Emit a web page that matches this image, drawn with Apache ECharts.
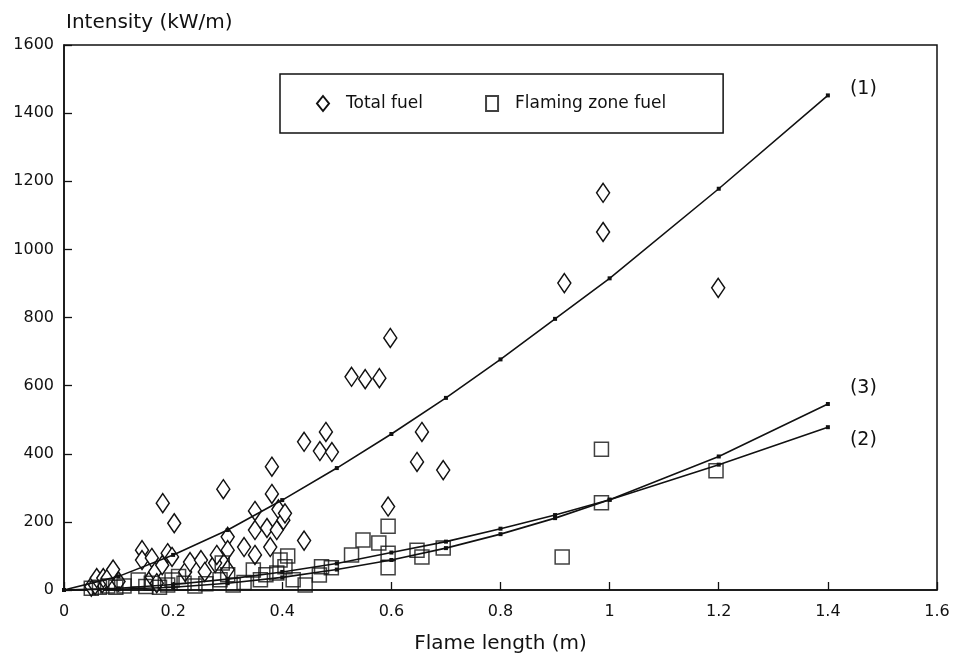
<!DOCTYPE html>
<html>
<head>
<meta charset="utf-8">
<script src="https://cdn.jsdelivr.net/npm/echarts@6/dist/echarts.min.js"></script>
<style>
  html, body { margin: 0; padding: 0; background: #fff; }
  #chart { width: 953px; height: 661px; }
</style>
</head>
<body>
<div id="chart"></div>
<script>
// fitted curves, read at the small square markers
const curveX = [0, 0.1, 0.2, 0.3, 0.4, 0.5, 0.6, 0.7, 0.8, 0.9, 1.0, 1.2, 1.4]
const curve1 = [0, 40, 103, 176, 264, 358, 458, 564, 677, 796, 915, 1178, 1452]
const curve2 = [0, 5, 16, 32, 53, 78, 110, 142, 180, 220, 265, 368, 478]
const curve3 = [0, 2, 8, 20, 37, 60, 88, 123, 164, 211, 265, 392, 546]

// measured points [flame length, intensity]
const totalFuel = [
  [0.05, 10], [0.057, 15], [0.07, 20], [0.06, 35], [0.072, 35], [0.08, 35], [0.09, 60], [0.1, 25],
  [0.143, 117], [0.143, 88], [0.161, 94], [0.161, 38], [0.167, 53], [0.18, 73], [0.19, 108],
  [0.181, 255], [0.202, 196], [0.198, 97], [0.17, 20], [0.222, 53], [0.231, 82], [0.251, 88],
  [0.258, 53], [0.277, 79], [0.28, 103], [0.292, 296], [0.30, 156], [0.30, 117], [0.30, 60],
  [0.33, 126], [0.35, 232], [0.35, 176], [0.35, 103], [0.372, 182], [0.378, 126], [0.381, 362],
  [0.381, 282], [0.39, 176], [0.393, 237], [0.402, 205], [0.405, 225], [0.44, 435], [0.44, 145],
  [0.469, 408], [0.48, 464], [0.491, 405], [0.527, 626], [0.552, 619], [0.578, 622],
  [0.598, 740], [0.594, 245], [0.647, 376], [0.656, 464], [0.695, 352], [0.917, 901],
  [0.988, 1166], [0.988, 1051], [1.199, 887]
]
const flamingFuel = [
  [0.05, 5], [0.065, 8], [0.08, 12], [0.095, 8], [0.11, 12], [0.136, 29], [0.15, 10], [0.16, 20],
  [0.175, 8], [0.19, 15], [0.198, 29], [0.21, 40], [0.22, 20], [0.24, 12], [0.26, 18], [0.286, 30],
  [0.29, 79], [0.3, 45], [0.31, 15], [0.33, 22], [0.347, 59], [0.36, 30], [0.37, 45], [0.39, 50],
  [0.396, 88], [0.405, 68], [0.41, 100], [0.42, 30], [0.442, 15], [0.468, 44], [0.472, 68],
  [0.49, 65], [0.527, 103], [0.548, 147], [0.577, 138], [0.594, 187], [0.594, 108], [0.594, 65],
  [0.647, 117], [0.656, 97], [0.695, 123], [0.913, 97], [0.985, 413], [0.985, 256], [1.195, 350]
]

const xTicks = ['0', '0.2', '0.4', '0.6', '0.8', '1', '1.2', '1.4', '1.6']

const font = 'DejaVu Sans'
const myChart = echarts.init(document.getElementById('chart'))

const zip = (xs, ys) => xs.map((x, i) => [x, ys[i]])

const curveSeries = (data, label, offset) => ({
  type: 'line',
  data: zip(curveX, data),
  symbol: 'rect',
  symbolSize: 4,
  showSymbol: true,
  color: '#111',
  lineStyle: { color: '#111', width: 1.6 },
  itemStyle: { color: '#111' },
  endLabel: {
    show: true,
    formatter: label,
    fontFamily: font,
    fontSize: 19,
    color: '#111',
    offset: offset
  },
  z: 3,
  silent: true
})

const option = {
  animation: false,
  backgroundColor: '#fff',
  textStyle: { fontFamily: font },
  grid: {
    left: 64,
    right: 16,
    top: 45,
    bottom: 71,
    show: true,
    borderColor: '#111',
    borderWidth: 1.5
  },
  legend: {
    left: 280,
    top: 74,
    padding: [21, 57, 21, 36],
    itemGap: 62,
    itemWidth: 12,
    itemHeight: 15,
    borderColor: '#111',
    borderWidth: 1.5,
    textStyle: { fontFamily: font, fontSize: 17, color: '#111', padding: [0, 0, 0, 12] },
    data: ['Total fuel', 'Flaming zone fuel']
  },
  xAxis: {
    type: 'value',
    min: 0,
    max: 1.6,
    interval: 0.2,
    name: 'Flame length (m)',
    nameLocation: 'middle',
    nameGap: 44,
    nameTextStyle: { fontFamily: font, fontSize: 20, color: '#111' },
    axisLine: { lineStyle: { color: '#111', width: 1.5 } },
    axisTick: { inside: true, length: 8, lineStyle: { color: '#111', width: 1.3 } },
    axisLabel: {
      fontSize: 16,
      color: '#111',
      margin: 14,
      formatter: (v) => xTicks[Math.round(v / 0.2)]
    },
    splitLine: { show: false }
  },
  yAxis: {
    type: 'value',
    min: 0,
    max: 1600,
    interval: 200,
    name: 'Intensity (kW/m)',
    nameLocation: 'end',
    nameGap: 12,
    nameTextStyle: { fontFamily: font, fontSize: 20, color: '#111', align: 'left', padding: [0, 0, 0, 2] },
    axisLine: { show: true, lineStyle: { color: '#111', width: 1.5 } },
    axisTick: { show: true, inside: true, length: 8, lineStyle: { color: '#111', width: 1.3 } },
    axisLabel: { fontSize: 16, color: '#111', margin: 10, formatter: (v) => String(v) },
    splitLine: { show: false }
  },
  series: [
    {
      name: 'Total fuel',
      type: 'scatter',
      data: totalFuel,
      symbol: 'diamond',
      symbolSize: [13, 19],
      itemStyle: { color: '#fff', borderColor: '#111', borderWidth: 1.5, opacity: 1 },
      z: 2
    },
    {
      name: 'Flaming zone fuel',
      type: 'scatter',
      data: flamingFuel,
      symbol: 'rect',
      symbolSize: 14,
      itemStyle: { color: 'rgba(255,255,255,0)', borderColor: '#111', borderWidth: 1.5 },
      z: 2
    },
    curveSeries(curve1, '(1)', [14, -6]),
    curveSeries(curve2, '(2)', [14, 13]),
    curveSeries(curve3, '(3)', [14, -16])
  ]
}

myChart.setOption(option)
window.addEventListener('resize', myChart.resize)
</script>
</body>
</html>
